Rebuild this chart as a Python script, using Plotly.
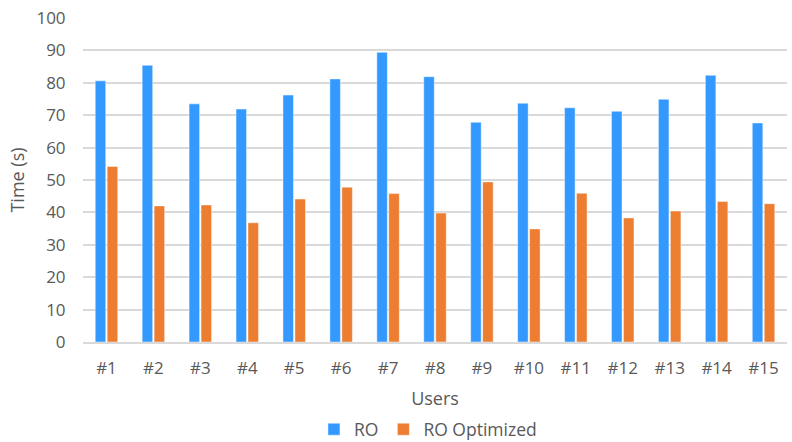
import plotly.graph_objects as go

users = ["#1", "#2", "#3", "#4", "#5", "#6", "#7", "#8", "#9", "#10",
         "#11", "#12", "#13", "#14", "#15"]
ro_times = [80.6, 85.4, 73.5, 71.9, 76.2, 81.2, 89.4, 81.9, 67.8, 73.7,
            72.3, 71.2, 74.9, 82.3, 67.6]
ro_optimized_times = [54.2, 42.0, 42.3, 36.8, 44.1, 47.8, 45.8, 39.8, 49.4, 34.9,
                      45.9, 38.3, 40.4, 43.4, 42.7]

FONT = "Open Sans, Noto Sans, sans-serif"
TEXT_GRAY = "#595959"

fig = go.Figure()
fig.add_trace(go.Bar(
    x=users, y=ro_times, name="RO",
    marker=dict(color="#3399FF", line=dict(color="rgba(255,255,255,0.45)", width=1)),
))
fig.add_trace(go.Bar(
    x=users, y=ro_optimized_times, name="RO Optimized",
    marker=dict(color="#ED7D31", line=dict(color="rgba(255,255,255,0.45)", width=1)),
))

fig.update_layout(
    width=792, height=442,
    margin=dict(l=83, r=5, t=18, b=100, autoexpand=False),
    paper_bgcolor="white", plot_bgcolor="white",
    barmode="group", bargap=0.49, bargroupgap=0.12,
    font=dict(family=FONT, size=16, color=TEXT_GRAY),
    showlegend=True,
    legend=dict(orientation="h", x=0.49, xanchor="center", y=-0.325, yanchor="bottom",
                font=dict(size=17.5, color=TEXT_GRAY), itemwidth=30,
                traceorder="normal"),
)
fig.update_yaxes(
    range=[0, 100], dtick=10, showgrid=True, gridcolor="#D9D9D9", gridwidth=1.5,
    zeroline=False, showline=False, automargin=False,
    ticks="outside", ticklen=13, tickcolor="rgba(0,0,0,0)",
    tickfont=dict(size=17, color=TEXT_GRAY),
    title=dict(text="Time (s)", font=dict(size=18, color=TEXT_GRAY), standoff=7),
)
fig.update_xaxes(
    showline=True, linecolor="#D9D9D9", linewidth=1.5, showgrid=False, automargin=False,
    ticks="outside", ticklen=10, tickcolor="rgba(0,0,0,0)",
    tickfont=dict(size=17, color=TEXT_GRAY),
    title=dict(text="Users", font=dict(size=18, color=TEXT_GRAY), standoff=14),
)

fig.write_html("out.html")
